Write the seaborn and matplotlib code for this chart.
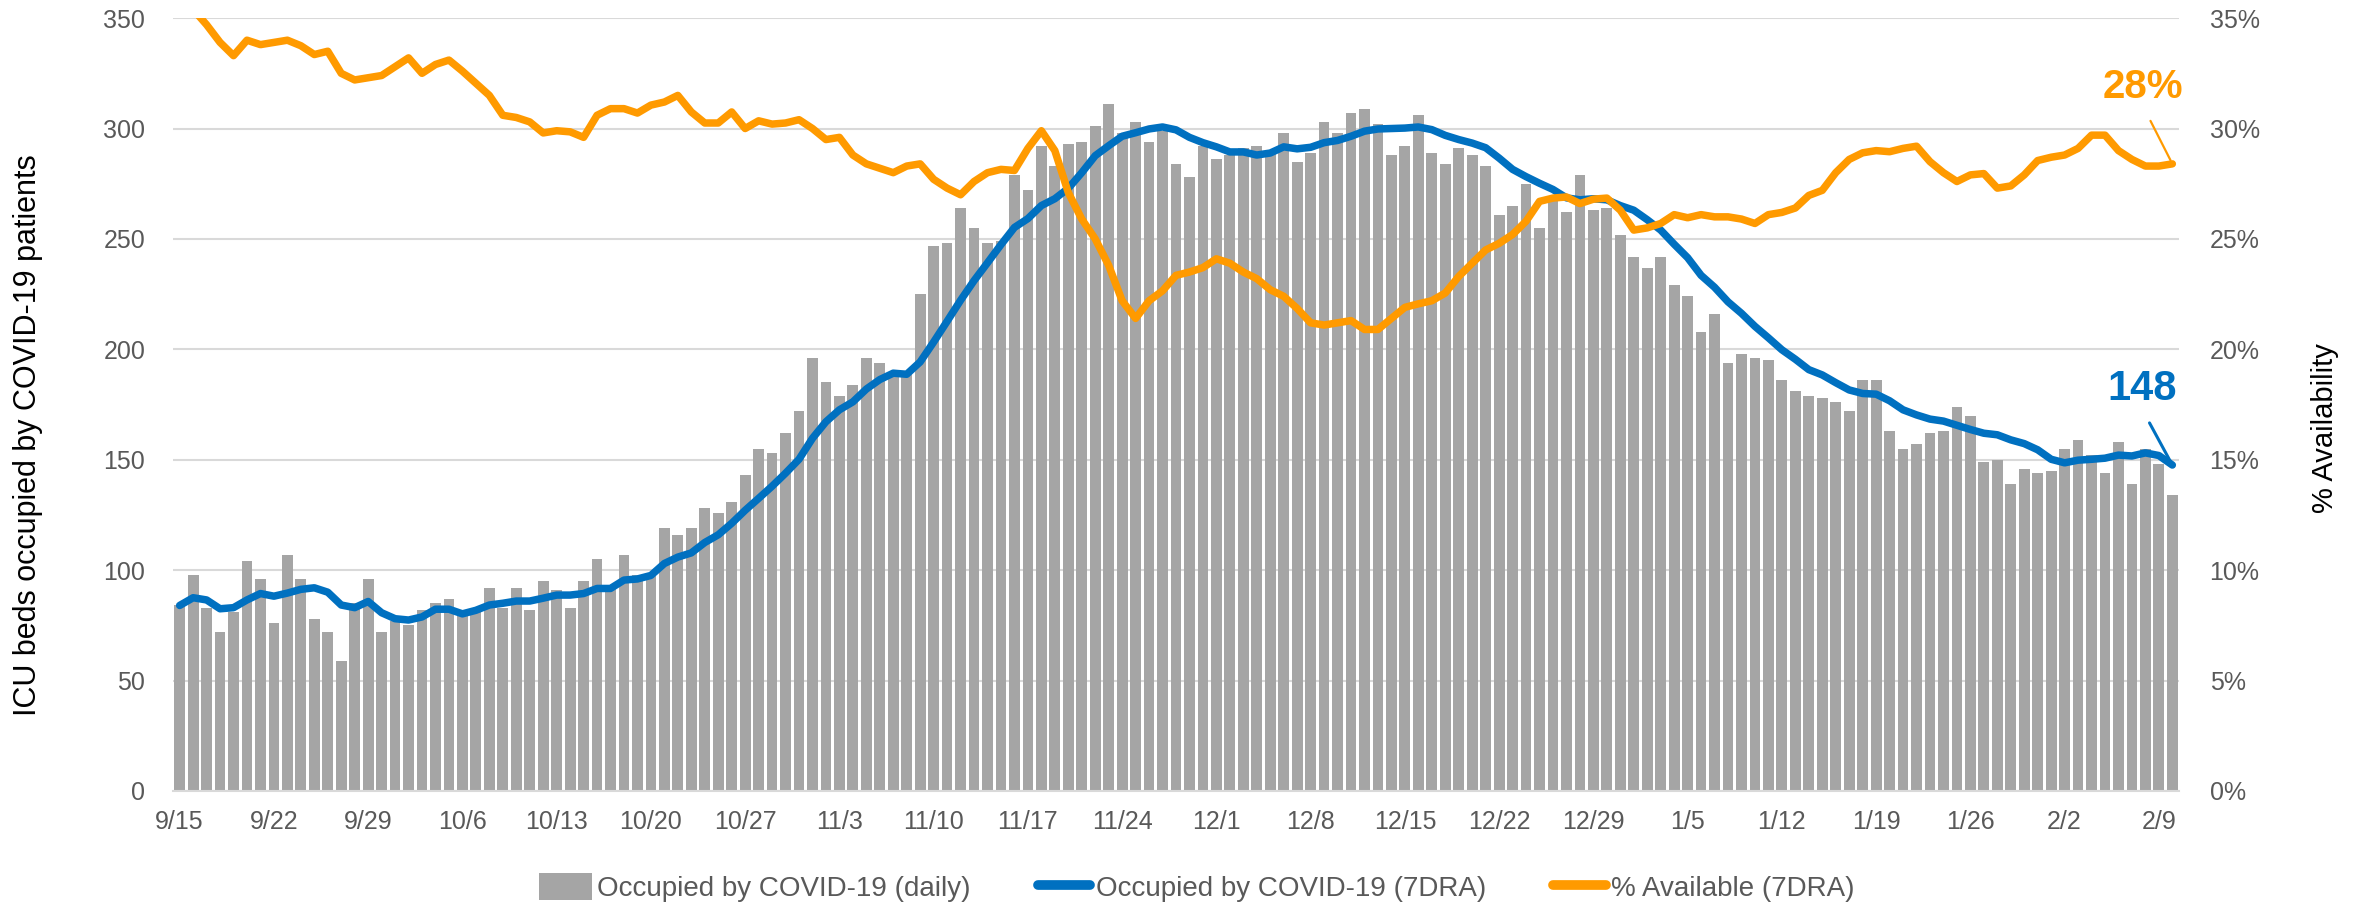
import numpy as np
import pandas as pd
import matplotlib
matplotlib.use('Agg')
import matplotlib.pyplot as plt
import matplotlib.ticker as mtick
from matplotlib import font_manager
from matplotlib.lines import Line2D
from matplotlib.patches import Patch
import seaborn as sns

# daily ICU beds occupied by COVID-19 patients, 9/15 .. 2/10
daily = [84, 98, 83, 72, 81, 104, 96, 76, 107, 96, 78, 72, 59, 85, 96, 72, 77, 75, 82, 85,
         87, 80, 81, 92, 83, 92, 82, 95, 91, 83, 95, 105, 92, 107, 98, 98, 119, 116, 119, 128,
         126, 131, 143, 155, 153, 162, 172, 196, 185, 179, 184, 196, 194, 189, 189, 225, 247, 248, 264, 255,
         248, 249, 279, 272, 292, 283, 293, 294, 301, 311, 298, 303, 294, 299, 284, 278, 292, 286, 288, 291,
         292, 289, 298, 285, 289, 303, 298, 307, 309, 302, 288, 292, 306, 289, 284, 291, 288, 283, 261, 265,
         275, 255, 269, 262, 279, 263, 264, 252, 242, 237, 242, 229, 224, 208, 216, 194, 198, 196, 195, 186,
         181, 179, 178, 176, 172, 186, 186, 163, 155, 157, 162, 163, 174, 170, 149, 150, 139, 146, 144, 145,
         155, 159, 152, 144, 158, 139, 155, 148, 134]

# 7-day rolling average of occupied beds
avg7 = [84, 87.5, 86.5, 82.5, 83, 86.5, 89.4, 88.2, 89.6, 91.3, 92, 90, 84.2, 83, 85.8, 80.7, 78, 77.4, 78.8, 82.3,
        82.3, 80.2, 81.8, 84.2, 85, 86, 86, 87.3, 88.7, 88.7, 89.4, 91.7, 91.7, 95.5, 96, 97.6, 103, 105.9, 107.8, 112.5,
        116, 121.2, 127.1, 132.5, 138, 143.9, 150.2, 159.7, 167.2, 172.6, 176.2, 182, 186.3, 189.2, 188.7, 194.3, 203.3, 212.7, 222.2, 231.1,
        239.2, 247.4, 255.2, 259.2, 265.1, 268.2, 272.9, 280, 287.7, 292.2, 296.5, 298.1, 299.8, 300.7, 299.4, 296, 293.6, 291.7, 289.4, 289.4,
        288, 288.9, 291.7, 290.8, 291.5, 293.6, 294.6, 296.5, 298.8, 299.8, 300, 300.2, 300.7, 299.5, 296.9, 295, 293.4, 291.3, 286.6, 281.5,
        278.2, 275.2, 272.4, 268.6, 267.7, 268.2, 267.7, 265.1, 263, 258.7, 254, 247.6, 241.5, 233.5, 228.1, 221.5, 216.3, 210.4, 205.2, 199.8,
        195.5, 190.8, 188.4, 184.9, 181.6, 180, 179.7, 176.7, 172.6, 170.3, 168.4, 167.5, 165.6, 163.7, 162, 161.3, 159, 157.3, 154.5, 150.2,
        148.6, 149.8, 150.2, 150.7, 152.1, 151.7, 153.1, 151.9, 147.6]

# % of ICU beds available, 7-day rolling average
avail7 = [36.1, 35.4, 34.7, 33.9, 33.3, 34.0, 33.8, 33.9, 34.0, 33.75, 33.35, 33.5, 32.5, 32.2, 32.3, 32.4, 32.8, 33.2, 32.5, 32.9,
          33.1, 32.6, 32.05, 31.5, 30.6, 30.5, 30.3, 29.8, 29.9, 29.85, 29.6, 30.6, 30.9, 30.9, 30.7, 31.06, 31.2, 31.5, 30.75, 30.25,
          30.25, 30.75, 30.0, 30.35, 30.2, 30.25, 30.4, 30.0, 29.5, 29.6, 28.8, 28.4, 28.2, 28.0, 28.3, 28.4, 27.7, 27.3, 27.0, 27.6,
          28.0, 28.15, 28.1, 29.1, 29.9, 29.0, 27.1, 25.9, 25.0, 23.8, 22.2, 21.4, 22.2, 22.65, 23.35, 23.5, 23.7, 24.1, 23.9, 23.5,
          23.2, 22.7, 22.4, 21.85, 21.2, 21.1, 21.2, 21.3, 20.9, 20.9, 21.4, 21.9, 22.06, 22.2, 22.55, 23.3, 23.9, 24.5, 24.8, 25.2,
          25.8, 26.7, 26.85, 26.9, 26.6, 26.8, 26.85, 26.3, 25.4, 25.5, 25.7, 26.1, 25.96, 26.1, 26.0, 26.0, 25.9, 25.7, 26.1, 26.2,
          26.4, 26.97, 27.2, 28.0, 28.6, 28.9, 29.0, 28.95, 29.1, 29.2, 28.5, 28.0, 27.6, 27.9, 27.96, 27.3, 27.4, 27.9, 28.55, 28.7,
          28.8, 29.1, 29.7, 29.7, 29.0, 28.6, 28.3, 28.3, 28.4]

tick_labels = ['9/15', '9/22', '9/29', '10/6', '10/13', '10/20', '10/27', '11/3', '11/10', '11/17', '11/24',
               '12/1', '12/8', '12/15', '12/22', '12/29', '1/5', '1/12', '1/19', '1/26', '2/2', '2/9']

GRAY = '#A5A5A5'
BLUE = '#0070C0'
ORANGE = '#FF9A00'
TXT = '#595959'

sns.set_style('white')
names = {f.name for f in font_manager.fontManager.ttflist}
NARROW = 'Liberation Sans Narrow' if 'Liberation Sans Narrow' in names else 'Liberation Sans'
plt.rcParams['font.family'] = ['Liberation Sans', 'DejaVu Sans']

df = pd.DataFrame({'day': np.arange(len(daily)), 'daily': daily, 'avg7': avg7, 'avail7': avail7})

fig = plt.figure(figsize=(23.56, 9.06), dpi=100)
ax = fig.add_axes([0.0734, 0.127, 0.8515, 0.853])

sns.barplot(data=df, x='day', y='daily', color=GRAY, width=0.8, saturation=1, edgecolor='none', ax=ax, zorder=2)
ax.plot(df['day'], df['avg7'], color=BLUE, lw=5.4, solid_capstyle='round', solid_joinstyle='round', zorder=3)

ax2 = ax.twinx()
ax2.plot(df['day'], df['avail7'], color=ORANGE, lw=5.4, solid_capstyle='round', solid_joinstyle='round', zorder=3)

ax.set_xlim(-0.5, len(daily) - 0.5)
ax.set_ylim(0, 350)
ax2.set_ylim(0, 35)
ax.set_yticks(np.arange(0, 351, 50))
ax2.set_yticks(np.arange(0, 36, 5))
ax2.yaxis.set_major_formatter(mtick.FuncFormatter(lambda v, p: f'{v:.0f}%'))
ax.set_xticks(np.arange(0, len(daily), 7))
ax.set_xticklabels(tick_labels)

ax.grid(axis='y', color='#D9D9D9', lw=1.5, zorder=0)
ax.set_axisbelow(True)
for a in (ax, ax2):
    for s in a.spines.values():
        s.set_visible(False)
ax.spines['bottom'].set_visible(True)
ax.spines['bottom'].set_color('#D9D9D9')
ax.spines['bottom'].set_linewidth(1.5)

ax.tick_params(axis='y', length=0, pad=20, labelsize=18, labelcolor=TXT)
ax2.tick_params(axis='y', length=0, pad=22, labelsize=18, labelcolor=TXT)
ax.tick_params(axis='x', length=0, pad=14, labelsize=18, labelcolor=TXT)

ax.set_xlabel('')
ax.set_ylabel('ICU beds occupied by COVID-19 patients', fontsize=22, family=NARROW, color='black')
ax.yaxis.set_label_coords(-0.065, 0.46)
ax2.set_ylabel('% Availability', fontsize=21, family=NARROW, color='black')
ax2.yaxis.set_label_coords(1.066, 0.47)

last = len(daily) - 1
ax2.annotate(f'{avail7[-1]:.0f}%', xy=(last, avail7[-1]), xytext=(-21, 55), textcoords='offset points',
             ha='center', va='center', fontsize=29, fontweight='bold', color=ORANGE,
             arrowprops=dict(arrowstyle='-', color=ORANGE, lw=1.6, relpos=(0.5, 0), shrinkA=9, shrinkB=3))
ax2.annotate(f'{avg7[-1]:.0f}', xy=(last, avg7[-1] / 10), xytext=(-22, 55), textcoords='offset points',
             ha='center', va='center', fontsize=30, fontweight='bold', color=BLUE,
             arrowprops=dict(arrowstyle='-', color=BLUE, lw=2.2, relpos=(0.5, 0), shrinkA=9, shrinkB=3))

handles = [Patch(facecolor=GRAY, edgecolor='none', label='Occupied by COVID-19 (daily)'),
           Line2D([], [], color=BLUE, lw=7, solid_capstyle='round', label='Occupied by COVID-19 (7DRA)'),
           Line2D([], [], color=ORANGE, lw=7, solid_capstyle='round', label='% Available (7DRA)')]
fig.legend(handles=handles, loc='center', bbox_to_anchor=(0.508, 0.02), ncol=3, frameon=False,
           prop={'family': NARROW, 'size': 20}, labelcolor=TXT, handlelength=1.9, handleheight=1.1,
           handletextpad=0.2, columnspacing=2.4)

fig.savefig('out.png', dpi=100)
